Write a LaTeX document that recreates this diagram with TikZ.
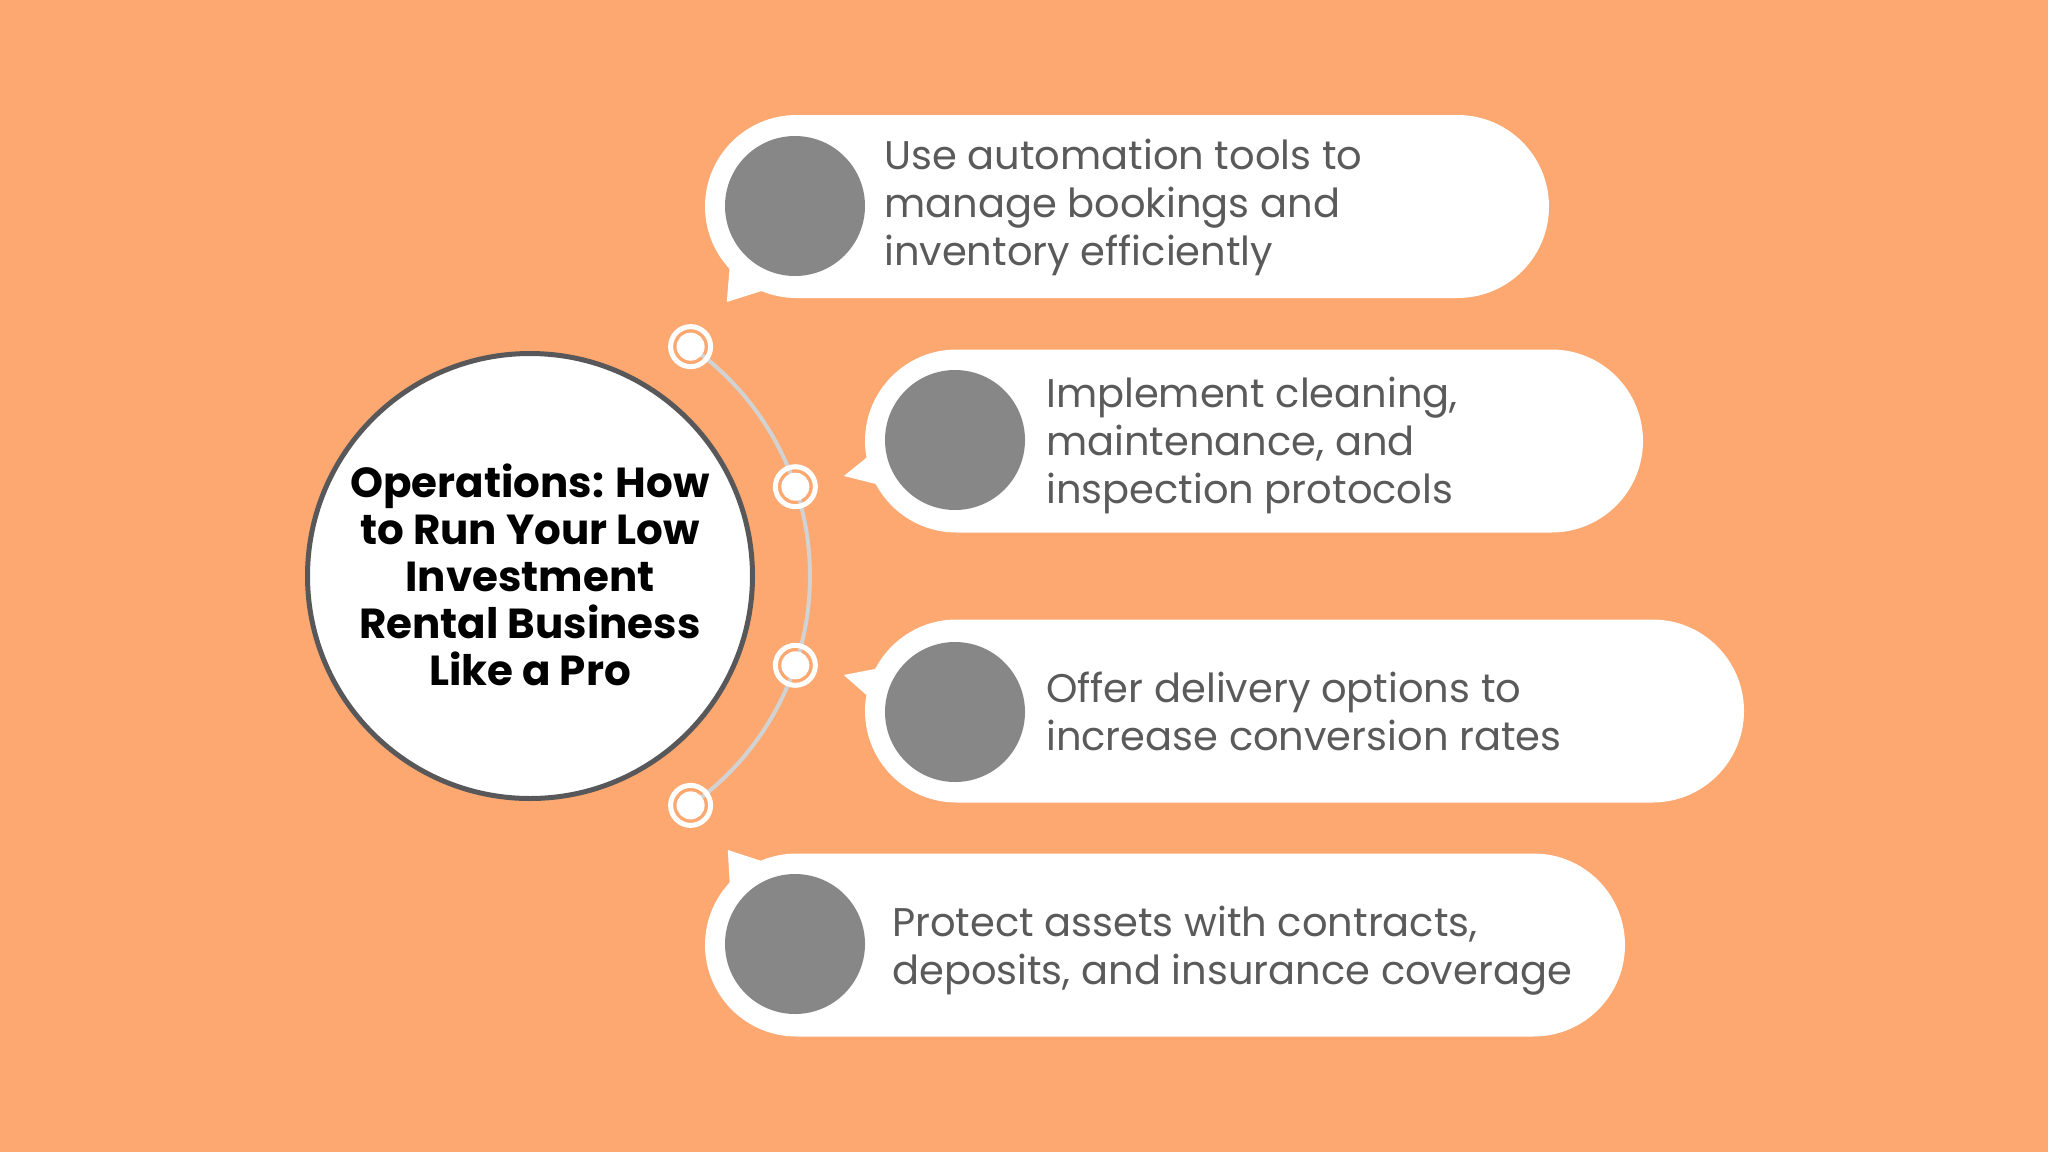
\documentclass[tikz,border=0pt]{standalone}
\usepackage{fontspec}
\setmainfont{Poppins}
\definecolor{bg}{RGB}{252,168,112}
\definecolor{dotgrey}{RGB}{135,135,135}
\definecolor{txtgrey}{RGB}{90,90,90}
\definecolor{rimgrey}{RGB}{88,88,90}
\definecolor{arcgrey}{RGB}{210,210,210}
\begin{document}
\begin{tikzpicture}[x=1pt,y=1pt,
  bubble/.style={rectangle, fill=white, rounded corners=91.5pt, minimum height=183pt, inner sep=0pt},
  greydot/.style={circle, fill=dotgrey, minimum size=140pt, inner sep=0pt},
  txt/.style={anchor=west, align=left, inner sep=0pt, text=txtgrey, font=\fontsize{40}{48}\selectfont},
  ringnode/.style={circle, draw=white, line width=5pt, minimum size=40pt, inner sep=0pt},
  ringdot/.style={circle, fill=white, minimum size=28pt, inner sep=0pt},
  arcline/.style={draw=arcgrey, line width=4pt},
  tail/.style={fill=white}
]
\fill[bg] (0,0) rectangle (2048,-1152);
\useasboundingbox (0,0) rectangle (2048,-1152);

% main circle
\node[circle, draw=rimgrey, fill=white, line width=5pt, minimum size=445pt, inner sep=0pt] (main) at (530,-576) {};
\node[align=center, inner sep=0pt, font=\fontsize{42}{47}\selectfont\bfseries] (title) at ([yshift=1pt]main.center)
  {Operations: How\\to Run Your Low\\Investment\\Rental Business\\Like a Pro};

% arc and rings
\path (main.center) ++(55:280) coordinate (a1);
\draw[arcline] (a1) arc[start angle=55, end angle=-55, radius=280];
\path (main.center) ++(55:280) node[ringnode] (r1) {};
\path (main.center) ++(18.6:280) node[ringnode] (r2) {};
\path (main.center) ++(-18.6:280) node[ringnode] (r3) {};
\path (main.center) ++(-55:280) node[ringnode] (r4) {};
\foreach \r in {r1,r2,r3,r4} \node[ringdot] at (\r.center) {};

% bubbles
\node[bubble, minimum width=844pt] (b1) at (1127,-206.5) {};
\node[bubble, minimum width=778pt] (b2) at (1254,-441) {};
\node[bubble, minimum width=879pt] (b3) at (1304.5,-711) {};
\node[bubble, minimum width=920pt] (b4) at (1165,-945) {};

% tails
\fill[tail] ([shift={(22,-95.5)}]b1.west) -- ([shift={(25,-58.5)}]b1.west) -- ([shift={(60,-83.5)}]b1.west) -- cycle;
\fill[tail] ([shift={(-21,-35)}]b2.west) -- ([shift={(5,-14)}]b2.west) -- ([shift={(15,-44)}]b2.west) -- cycle;
\fill[tail] ([shift={(-21,36)}]b3.west) -- ([shift={(15,43)}]b3.west) -- ([shift={(5,13)}]b3.west) -- cycle;
\fill[tail] ([shift={(23,95)}]b4.west) -- ([shift={(25,60)}]b4.west) -- ([shift={(60,83)}]b4.west) -- cycle;

% grey dots
\node[greydot] (d1) at (795,-206) {};
\node[greydot] (d2) at (955,-440) {};
\node[greydot] (d3) at (955,-712) {};
\node[greydot] (d4) at (795,-944) {};

% texts
\node[txt] (t1) at (884,-207) {Use automation tools to\\manage bookings and\\inventory efficiently};
\node[txt] (t2) at (1046,-445) {Implement cleaning,\\maintenance, and\\inspection protocols};
\node[txt] (t3) at (1046,-711) {Offer delivery options to\\increase conversion rates};
\node[txt] (t4) at (892,-951) {Protect assets with contracts,\\deposits, and insurance coverage};
\end{tikzpicture}
\end{document}
